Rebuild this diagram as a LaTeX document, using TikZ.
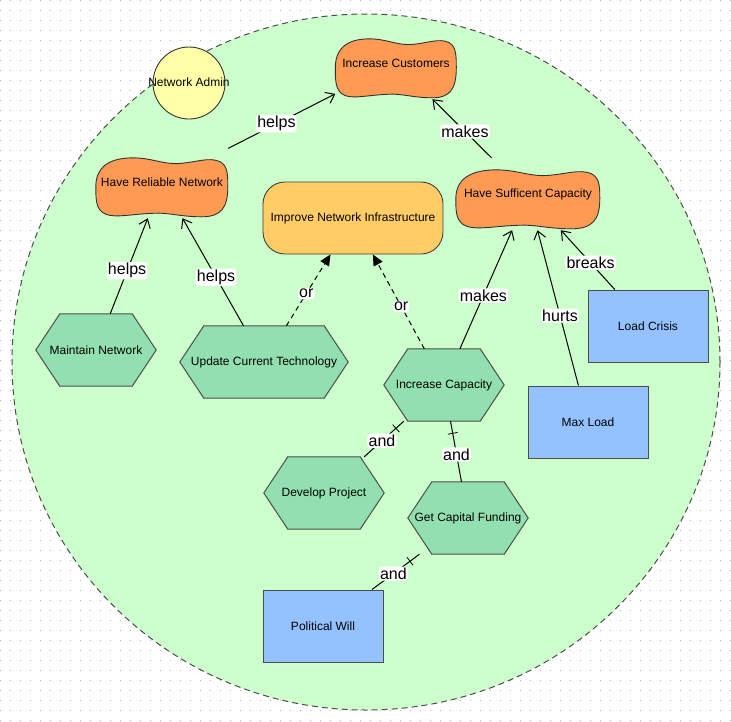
\documentclass[tikz,border=0pt]{standalone}
\usepackage{fontspec}
\setmainfont{Liberation Sans}
\usetikzlibrary{arrows.meta, backgrounds}

\definecolor{goalorange}{HTML}{FF9A55}
\definecolor{softgold}{HTML}{FFCC66}
\definecolor{taskgreen}{HTML}{92E0AF}
\definecolor{resblue}{HTML}{94C2FF}
\definecolor{actorgreen}{HTML}{CCFFCC}
\definecolor{agentyellow}{HTML}{FFFFA8}

% hexagon drawn round a task node
\newcommand{\hexshape}[1]{%
  \filldraw[taskline] (#1.west) -- ([xshift=24pt]#1.north west)
    -- ([xshift=-24pt]#1.north east) -- (#1.east)
    -- ([xshift=-24pt]#1.south east) -- ([xshift=24pt]#1.south west) -- cycle;}

% wavy goal outline, #2 = width
\newcommand{\goalshape}[2]{%
  \filldraw[goalline, shift={([yshift=-11pt]#1.north west)}, x=#2pt, y=-60pt]
    (0,0.5) .. controls (0,0.1) and (0.15,0) .. (0.32,0.02)
    .. controls (0.45,0.04) and (0.52,0.13) .. (0.64,0.11)
    .. controls (0.76,0.09) and (0.86,0) .. (0.94,0.08)
    .. controls (1,0.15) and (1,0.3) .. (1,0.5)
    .. controls (1,0.85) and (0.95,1) .. (0.8,1)
    .. controls (0.65,1) and (0.55,0.93) .. (0.45,0.94)
    .. controls (0.3,0.95) and (0.2,1) .. (0.12,0.98)
    .. controls (0,0.95) and (0,0.75) .. cycle;}

\begin{document}
\begin{tikzpicture}[
    x=1pt, y=-1pt,
    nodefont/.style={font=\fontsize{12}{14}\selectfont},
    goal/.style={rectangle, nodefont, minimum height=72pt, inner sep=0pt},
    goalline/.style={draw=black!80, fill=goalorange, line width=0.9pt},
    softgoal/.style={rectangle, nodefont, draw=black!75, fill=softgold, line width=0.9pt,
                     rounded corners=22pt, minimum width=180pt, minimum height=72pt},
    task/.style={rectangle, nodefont, minimum width=120pt, minimum height=72pt, inner sep=0pt},
    taskline/.style={draw=black!70, fill=taskgreen, line width=1pt},
    resource/.style={rectangle, nodefont, draw=black!70, fill=resblue, line width=1pt,
                     minimum width=120pt, minimum height=72pt},
    agent/.style={circle, draw=black!80, fill=agentyellow, line width=0.9pt,
                  minimum size=72pt, inner sep=0pt},
    griddot/.style={draw=black!30, line width=1pt, dash pattern=on 1pt off 9pt},
    actorline/.style={draw=black!70, fill=actorgreen, line width=1pt, dash pattern=on 6pt off 4pt},
    contrib/.style={draw=black, line width=1pt, -{Straight Barb[length=8pt,width=12pt]}},
    orlink/.style={draw=black, line width=1pt, dash pattern=on 5pt off 4pt,
                   -{Triangle[length=11pt,width=10pt]}},
    andlink/.style={draw=black, line width=1pt},
    andtick/.style={pos=0.8, sloped, draw=black, line width=0.8pt, minimum width=0pt,
                    minimum height=10pt, inner sep=0pt},
    lbl/.style={pos=0.45, fill=white, rounded corners=3pt, inner sep=1.2pt,
                font=\fontsize{16}{19}\selectfont}
]
\useasboundingbox (0,0) rectangle (731,721);

%% --- BACKGROUND: grid and actor boundary ---
\begin{scope}[on background layer]
  \fill[white] (0,0) rectangle (731,721);
  \foreach \gy in {0,10,...,720}
    \draw[griddot] (0,\gy) -- (731,\gy);
  \filldraw[actorline] (366,362) ellipse [x radius=354pt, y radius=348pt];
\end{scope}

%% --- AGENT ---
\node[agent] (netAdmin) at (189,83) {};
\node[nodefont, inner sep=0pt] (netAdminName) at (189,82) {Network Admin};

%% --- GOALS ---
\node[goal, minimum width=121pt] (incCust) at (396,63) {Increase Customers};
\node[goal, minimum width=132pt] (relNet)  at (162,182) {Have Reliable Network};
\node[goal, minimum width=144pt] (sufCap)  at (528,194) {Have Sufficent Capacity};
\node[softgoal] (netInfra) at (353,218) {Improve Network Infrastructure};

%% --- TASKS ---
\node[task] (maintNet) at (96,350) {Maintain Network};
\node[task, minimum width=168pt] (updTech) at (264,362) {Update Current Technology};
\node[task] (incCap)  at (444,385) {Increase Capacity};
\node[task] (devProj) at (324,493) {Develop Project};
\node[task] (capFund) at (468,518) {Get Capital Funding};

%% --- RESOURCES ---
\node[resource] (polWill)    at (323,626) {Political Will};
\node[resource] (maxLoad)    at (588,422) {Max Load};
\node[resource] (loadCrisis) at (648,326) {Load Crisis};

%% --- SHAPES behind the texts ---
\begin{scope}[on background layer]
  \goalshape{incCust}{121}
  \goalshape{relNet}{132}
  \goalshape{sufCap}{144}
  \hexshape{maintNet}
  \hexshape{updTech}
  \hexshape{incCap}
  \hexshape{devProj}
  \hexshape{capFund}
\end{scope}

%% --- CONTRIBUTIONS ---
\draw[contrib] (relNet)     -- node[lbl] {helps}  (incCust);
\draw[contrib] (sufCap)     -- node[lbl] {makes}  (incCust);
\draw[contrib] (maintNet)   -- node[lbl] {helps}  (relNet);
\draw[contrib] (updTech)    -- node[lbl] {helps}  (relNet);
\draw[contrib] (incCap)     -- node[lbl] {makes}  (sufCap);
\draw[contrib] (maxLoad)    -- node[lbl] {hurts}  (sufCap);
\draw[contrib] (loadCrisis) -- node[lbl] {breaks} (sufCap);

%% --- OR / AND ---
\draw[orlink] (updTech) -- node[lbl] {or} (netInfra);
\draw[orlink] (incCap)  -- node[lbl] {or} (netInfra);
\draw[andlink] (devProj) -- node[andtick] {} node[lbl] {and} (incCap);
\draw[andlink] (capFund) -- node[andtick] {} node[lbl] {and} (incCap);
\draw[andlink] (polWill) -- node[andtick] {} node[lbl] {and} (capFund);

\end{tikzpicture}
\end{document}
